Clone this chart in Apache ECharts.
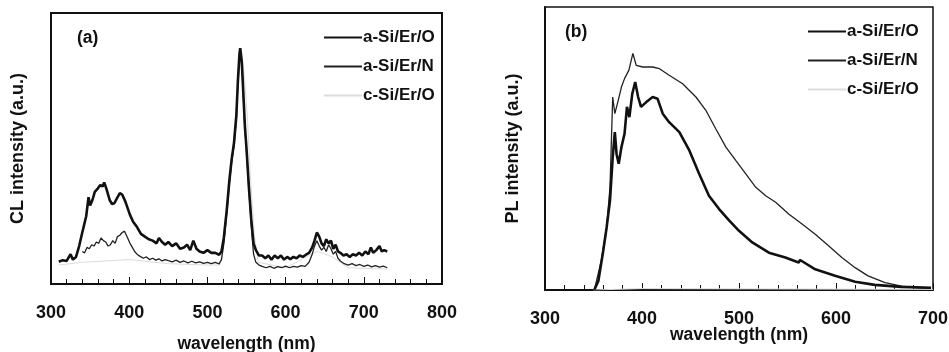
<!DOCTYPE html>
<html>
<head>
<meta charset="utf-8">
<script src="https://cdn.jsdelivr.net/npm/echarts@6/dist/echarts.min.js"></script>
<style>
  html, body { margin: 0; padding: 0; background: #fff; }
  #chart { width: 949px; height: 352px; }
</style>
</head>
<body>
<div id="chart"></div>
<script>
// ---- panel (a): CL spectra ----
const names = ["a-Si/Er/O", "a-Si/Er/N", "c-Si/Er/O"];
const xTicks = [300, 400, 500, 600, 700, 800];

const clWaveO = [310,315,320,325,328,332,336,340,345,348,350,353,356,360,363,366,368,371,375,378,381,385,388,391,395,398,401,405,410,415,420,425,430,435,438,442,446,450,455,460,465,470,474,478,482,486,490,495,500,505,510,515,518,521,525,528,531,534,537,539,541,542,544,546,548,550,553,556,559,562,566,570,574,578,582,586,590,594,598,602,606,610,614,618,622,626,630,634,637,640,643,646,649,652,655,658,661,664,667,670,674,678,682,686,690,694,698,702,706,709,712,716,720,723,726,730];
const clAsiErO = [8.2,8.8,8.5,11,9,10,14,19,25,32,29,31,34,35.3,36.5,36,37.5,35,31,29.5,29.8,32,33.5,33,30.5,28,25.5,23,21,18.5,17.5,16.5,16,15,17,15.5,14.5,15.5,14,15,13,13.5,14.5,12.5,16,13,12,11.5,12.5,11.5,11.5,10.8,12,17,28,38,46,52,62,75,85,87,82,70,58,50,36,24,15,12.5,10.5,10.5,9.5,10.5,9,10.5,9.5,10.5,9,10,9.2,10,9.5,10.5,10,10.8,11.5,13.5,16,19,17.5,15,14,16.5,15,16,13,14.5,12,11.5,10.5,11,10,11,10.5,11.5,10.5,12,11,13.5,11.5,12.5,14,12,12.5,12];

const clWaveN = [340,343,346,349,352,355,358,361,364,367,370,373,376,379,382,385,388,391,394,396,398,401,404,407,410,414,418,422,426,430,434,438,442,446,450,455,460,465,470,475,480,485,490,495,500,505,510,515,518,521,525,528,531,534,537,539,541,542,544,546,548,550,553,556,559,562,566,570,575,580,585,590,595,600,605,610,615,620,625,630,634,637,640,643,646,649,652,655,658,661,664,667,670,675,680,685,690,695,700,705,710,715,720,725,730];
const clAsiErN = [12,11.5,13.5,13,14.5,14,15.5,15,17,16,15.5,14,14.5,16,15,17.5,18,19,19.5,20,17,15,13.5,12,11,10.2,9.5,10,9,9.5,8.8,9.3,8.5,9,8.6,8.2,8.8,8,8.5,7.8,8.4,7.8,8.2,7.6,8,7.5,8,7.4,9,15,27,37,45,51,61,74,84,86,81,69,57,49,35,22,11,8,7,6.5,6,6.5,5.8,6.4,6,6.6,6,6.5,6.2,6.8,6.5,8,11,14,16,14,12.5,13.5,12,14.5,13,11,12,9.5,8.5,7.5,7,7.5,6.8,7.2,6.5,7,6.3,6.8,6.2,6.6,6];

const clWaveC = [310,340,400,450,500,515,520,530,538,543,547,551,555,560,565,600,640,660,680,730];
const clCsiErO = [7,8,9,7.5,7,7,12,40,70,85,78,62,40,18,8,6,12,10,6,5.5];

// ---- panel (b): PL spectra ----
const plWaveO = [351,355,360,363.5,367,369.8,372,373.8,376,378.8,382,384.5,387,390,393,396,399,404.4,411,416,421.4,428,438.5,448.8,459,469,479.5,490,500,513.7,530.8,547.8,561.5,563,578.6,599,619.7,640,667.5,698];
const plAsiErO = [0.2,3.2,13.8,22,31.6,46.9,55.8,48,44.6,50.5,55.2,64.7,61.1,69.4,73.5,68.2,64.7,66.4,68.2,67.6,62.3,59.3,55.8,49.3,41,33.3,28.6,24.5,20.9,16.8,13.2,11.5,9.7,10.6,7.3,5,2.9,1.8,1.1,0.8];

const plWaveN = [351,358,363.5,367,369.8,372,375.5,378.8,382,386.5,390.6,394,400.8,411,418,428,441.9,455.6,465.8,476,486.5,496.8,507,517.3,527.5,537.8,551.5,565,578.6,592.3,606,619.7,633,650.6,667.5,684.5,698];
const plAsiErN = [0.2,10.3,22,36.3,68.2,62.3,67,71.7,74.7,77.7,83.6,79.4,78.8,78.8,78.2,75.9,72.9,68.2,63.5,57,50.5,45.7,41,36.3,33.3,31,26.8,23.3,19.7,15.6,11.5,7.9,5,2.6,1.4,0.8,0.6];

const plWaveC = [350,400,500,600,700];
const plCsiErO = [0,0.5,0.4,0.3,0.2];

const zip = (xs, ys) => xs.map((x, i) => [x, ys[i]]);

const lineStyles = [
  { color: "#111", width: 2.6 },
  { color: "#222", width: 1.3 },
  { color: "#dcdcdc", width: 1 }
];

const font = "Liberation Sans, Arial, sans-serif";
const boldText = { fontFamily: font, fontWeight: "bold", color: "#111" };

function xAxisFor(gridIndex, max, nameGap, labelMargin) {
  return {
    gridIndex, type: "value", min: 300, max, interval: 100,
    name: "wavelength (nm)", nameLocation: "middle", nameGap,
    nameMoveOverlap: false,
    nameTextStyle: Object.assign({ fontSize: 17.5 }, boldText),
    axisLine: { show: true, lineStyle: { color: "#111", width: 2 } },
    axisTick: { show: true, inside: true, length: 7, lineStyle: { color: "#111", width: 1 } },
    minorTick: { show: true, splitNumber: 5, length: 5, lineStyle: { color: "#111", width: 1 } },
    axisLabel: Object.assign({ fontSize: 18, margin: labelMargin }, boldText),
    splitLine: { show: false }
  };
}
function yAxisFor(gridIndex, name, nameGap) {
  return {
    gridIndex, type: "value", min: 0, max: 100,
    name, nameLocation: "middle", nameGap,
    nameTextStyle: Object.assign({ fontSize: 18 }, boldText),
    axisLine: { show: true, lineStyle: { color: "#111", width: 2 } },
    axisTick: { show: false }, axisLabel: { show: false }, splitLine: { show: false }
  };
}
function seriesFor(idx, data) {
  return data.map((d, i) => ({
    name: names[i], type: "line", xAxisIndex: idx, yAxisIndex: idx,
    symbol: "none", smooth: false, animation: false,
    lineStyle: lineStyles[i], itemStyle: { color: lineStyles[i].color },
    z: 3 - i,
    data: d
  }));
}
function legendFor(left, top) {
  return {
    data: names, orient: "vertical", left, top,
    itemWidth: 38, itemHeight: 14, itemGap: 12,
    selectedMode: false,
    itemStyle: { opacity: 0 },
    textStyle: Object.assign({ fontSize: 17, padding: [0, 0, 0, -4] }, boldText)
  };
}

const chart = echarts.init(document.getElementById("chart"), null, { renderer: "canvas" });
chart.setOption({
  backgroundColor: "#fff",
  animation: false,
  grid: [
    { left: 51, right: 507, top: 13, bottom: 68, show: true, borderColor: "#111", borderWidth: 2, outerBoundsMode: "none" },
    { left: 545, right: 16, top: 7, bottom: 62, show: true, borderColor: "#111", borderWidth: 1.5, outerBoundsMode: "none" }
  ],
  xAxis: [xAxisFor(0, 800, 51, 20), xAxisFor(1, 700, 36, 20)],
  yAxis: [yAxisFor(0, "CL intensity (a.u.)", 24), yAxisFor(1, "PL intensity (a.u.)", 23)],
  legend: [legendFor(318, 24), legendFor(802, 18)],
  graphic: [
    { type: "text", left: 77, top: 29, style: { text: "(a)", fontSize: 17.5, fill: "#111", fontFamily: font, fontWeight: "bold" } },
    { type: "text", left: 565, top: 23, style: { text: "(b)", fontSize: 17.5, fill: "#111", fontFamily: font, fontWeight: "bold" } }
  ],
  series: [
    ...seriesFor(0, [zip(clWaveO, clAsiErO), zip(clWaveN, clAsiErN), zip(clWaveC, clCsiErO)]),
    ...seriesFor(1, [zip(plWaveO, plAsiErO), zip(plWaveN, plAsiErN), zip(plWaveC, plCsiErO)])
  ]
});
</script>
</body>
</html>
